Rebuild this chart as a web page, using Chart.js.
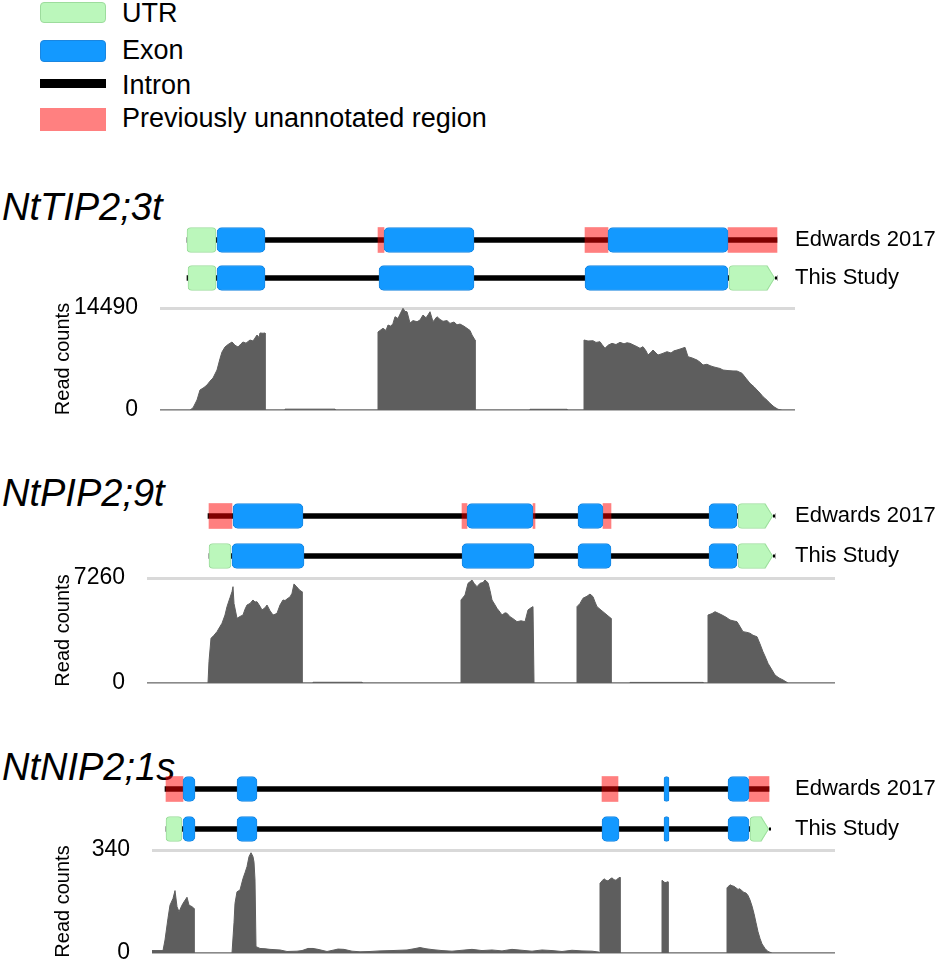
<!DOCTYPE html>
<html>
<head>
<meta charset="utf-8">
<script src="https://cdn.jsdelivr.net/npm/chart.js@4.4.1/dist/chart.umd.min.js"></script>
<style>
  body { margin: 0; background: #fff; }
  #page { position: relative; width: 939px; height: 965px; font-family: "Liberation Sans", Arial, sans-serif; color: #000; }
  canvas { position: absolute; left: 0; }
  .lg { position: absolute; left: 122px; font-size: 27px; line-height: 27px; white-space: nowrap; }
  .sw { position: absolute; left: 40px; width: 66px; box-sizing: border-box; }
  .title { position: absolute; left: 2px; font-size: 38px; line-height: 38px; font-style: italic; white-space: nowrap; }
</style>
</head>
<body>
<div id="page">
  <div class="sw" style="top:2px;height:21px;background:#bbf7bb;border:1px solid #9ddc9d;border-radius:4px;"></div>
  <div class="lg" style="top:0px;">UTR</div>
  <div class="sw" style="top:40px;height:22px;background:#1399ff;border:1px solid #1a86e0;border-radius:4px;"></div>
  <div class="lg" style="top:37px;">Exon</div>
  <div class="sw" style="top:79px;height:9px;background:#000;"></div>
  <div class="lg" style="top:72px;">Intron</div>
  <div class="sw" style="top:108px;height:23px;background:#ff8080;"></div>
  <div class="lg" style="top:105px;">Previously unannotated region</div>

  <div class="title" style="top:188px;">NtTIP2;3t</div>
  <div class="title" style="top:474px;">NtPIP2;9t</div>
  <div class="title" style="top:748px;">NtNIP2;1s</div>

  <canvas id="tipTracks"></canvas>
  <canvas id="tipCov"></canvas>
  <canvas id="pipTracks"></canvas>
  <canvas id="pipCov"></canvas>
  <canvas id="nipTracks"></canvas>
  <canvas id="nipCov"></canvas>
</div>
<script>
// gene model rows
var rows = ['Edwards 2017', 'This Study'];

// NtTIP2;3t  [row, start, end] in window coordinates
var tipIntron = [[0, 27, 617], [1, 27, 617]];
var tipUtr = [[0, 27, 56], [1, 28, 56], [1, 569, 615]];
var tipExon = [[0, 57, 105], [0, 224, 314], [0, 448, 568], [1, 57, 105], [1, 219, 314], [1, 425, 568]];
var tipNew = [[0, 218, 224], [0, 425, 448], [0, 568, 617]];
var tipTicks = [0, 14490];
var tipCoverage = [
  [0,0],[30,0],[33,300],[37,1420],[40,2840],[44,3200],[47,3550],[50,4100],[53,4540],[57,5680],[60,7300],[62,8240],[65,8950],[68,9300],[72,9660],[75,9200],[78,8950],[81,9400],[83,9660],[86,9500],[90,9940],[93,9800],[95,10220],[97,10650],[99,10300],[100,10940],[103,10900],[105,10940],[105,0],
  [125,0],[125,120],[175,120],[175,0],
  [218,0],[218,11080],[221,11400],[223,11600],[226,11300],[228,12070],[231,11900],[233,12300],[235,13250],[238,13000],[241,13900],[243,14440],[245,14000],[247,13960],[249,12900],[250,12350],[253,12700],[257,12540],[260,12780],[263,13490],[266,13100],[268,13500],[270,13960],[273,12540],[275,12900],[277,13250],[280,12870],[283,12600],[287,12700],[290,12300],[294,12500],[297,12100],[300,12210],[304,11900],[307,11600],[310,11300],[312,10650],[315,9940],[315,0],
  [370,0],[370,100],[407,100],[407,0],
  [424,0],[424,9940],[428,9800],[433,9840],[436,9600],[440,9700],[442,9300],[445,8760],[448,9200],[452,9470],[456,9300],[460,9610],[464,9400],[467,9550],[470,9470],[474,9200],[477,9000],[480,8760],[483,8990],[486,8400],[488,7810],[491,8200],[493,8520],[496,8100],[498,7810],[502,8000],[507,8280],[511,8100],[514,8400],[517,8520],[521,8700],[525,8900],[528,7570],[532,7400],[537,7100],[540,6800],[543,6390],[547,6500],[550,6300],[553,6150],[557,6000],[560,5900],[563,5680],[568,5600],[573,5550],[577,5540],[582,5210],[586,4500],[590,3790],[594,3300],[597,2840],[600,2400],[603,1890],[607,1400],[610,950],[614,450],[618,100],[622,0],[635,0]
];

// NtPIP2;9t
var pipIntron = [[0, 61, 628], [1, 62, 628]];
var pipUtr = [[0, 591, 626], [1, 62, 84], [1, 591, 626]];
var pipExon = [[0, 86, 156], [0, 320, 386], [0, 431, 456], [0, 562, 590], [1, 85, 157], [1, 315, 387], [1, 431, 464], [1, 562, 590]];
var pipNew = [[0, 62, 85], [0, 315, 320], [0, 386, 388], [0, 456, 464]];
var pipTicks = [0, 7260];
var pipCoverage = [
  [0,0],[61,0],[62,1500],[64,3090],[67,3300],[70,3550],[73,3900],[75,4130],[78,4700],[80,5280],[83,5900],[85,6310],[86,6660],[87,5500],[90,4470],[93,4600],[96,4700],[98,5100],[100,5390],[103,5500],[106,5740],[108,5600],[110,5620],[113,5300],[115,5050],[118,5200],[120,5390],[123,5000],[126,4700],[128,4750],[130,4820],[133,5390],[136,5740],[138,5700],[141,5860],[143,5950],[145,6200],[147,6850],[149,6700],[151,6550],[153,6400],[155,6310],[155,0],
  [166,0],[166,50],[215,50],[215,0],
  [314,0],[314,5740],[318,6080],[321,6890],[323,7000],[325,7120],[327,6900],[330,6660],[333,6890],[336,6950],[338,7120],[341,6930],[343,6400],[345,5740],[348,5400],[350,5160],[353,4900],[355,4700],[358,4850],[360,4820],[363,4580],[366,4450],[370,4240],[374,4300],[378,4240],[381,5050],[384,5200],[386,5280],[387,0],
  [430,0],[430,5280],[433,5500],[436,5860],[440,6000],[443,6150],[446,5970],[448,5600],[450,5280],[453,5100],[456,4930],[460,4700],[464,4470],[464,0],
  [483,0],[483,40],[556,40],[556,0],
  [561,0],[561,4700],[565,4800],[568,4930],[572,4800],[575,4700],[579,4550],[583,4360],[586,4300],[590,4240],[593,3900],[596,3550],[600,3500],[603,3440],[606,3300],[610,3200],[613,2700],[616,2160],[619,1700],[621,1360],[625,900],[628,550],[632,350],[636,210],[641,0],[688,0]
];

// NtNIP2;1s
var nipIntron = [[0, 13, 617], [1, 14, 617]];
var nipUtr = [[1, 14, 30], [1, 598, 617]];
var nipExon = [[0, 31, 43], [0, 85, 105], [0, 512, 517], [0, 576, 597], [1, 31, 43], [1, 85, 105], [1, 450, 467], [1, 512, 517], [1, 576, 597]];
var nipNew = [[0, 14, 31], [0, 450, 466], [0, 597, 617]];
var nipTicks = [0, 340];
var nipCoverage = [
  [0,8],[11,8],[13,43],[16,115],[18,158],[21,180],[23,206],[25,153],[27,136],[30,158],[32,169],[35,184],[37,158],[40,153],[42,147],[42,0],
  [80,0],[82,100],[83,164],[85,202],[88,208],[91,246],[93,265],[95,285],[97,318],[99,331],[101,318],[102,300],[103,241],[104,21],[108,15],[113,14],[118,12],[123,11],[128,10],[135,5],[145,6],[150,8],[156,15],[161,15],[166,12],[175,5],[182,10],[186,13],[192,12],[200,6],[208,4],[218,5],[228,7],[240,8],[255,10],[262,14],[268,18],[274,14],[281,11],[290,8],[300,6],[310,9],[320,12],[330,8],[340,10],[350,7],[360,12],[370,9],[380,6],[390,10],[400,8],[410,5],[420,9],[430,7],[440,6],[447,3],[447,0],
  [448,0],[448,230],[450,238],[452,245],[454,240],[456,238],[458,244],[460,248],[462,242],[464,240],[466,246],[468,250],[468,0],
  [510,0],[510,240],[513,232],[516,235],[516,0],
  [575,0],[575,215],[578,225],[580,222],[582,220],[584,215],[586,210],[588,212],[590,205],[592,200],[594,198],[596,190],[598,175],[600,155],[602,130],[604,100],[606,70],[608,48],[610,30],[613,15],[616,5],[620,0],[683,0]
];

var FONT = '"Liberation Sans", Arial, sans-serif';
var W = 939;

function feats(list) {
  return list.map(function (f) { return { y: rows[f[0]], x: [f[1], f[2]] }; });
}

function place(id, top, height) {
  var cv = document.getElementById(id);
  cv.width = W; cv.height = height;
  cv.style.top = top + 'px';
  cv.style.width = W + 'px'; cv.style.height = height + 'px';
  return cv;
}

// keep the axis from adding its own label padding to the layout
function fixAxis(width) {
  return function (s) {
    s.width = width;
    s.paddingTop = 0; s.paddingBottom = 0;
  };
}

// 3' UTR boxes get a pointed end
var arrowTips = {
  id: 'arrowTips',
  afterDatasetsDraw: function (chart) {
    var ctx = chart.ctx;
    var half = chart.scales.x.max / 2;
    var ds = chart.data.datasets[1];
    chart.getDatasetMeta(1).data.forEach(function (bar, i) {
      if (ds.data[i].x[0] < half) return;
      var p = bar.getProps(['x', 'y', 'height'], true);
      var r = p.x, top = p.y - p.height / 2, bot = p.y + p.height / 2, k = 8;
      ctx.save();
      ctx.fillStyle = '#fff';
      ctx.beginPath();
      ctx.moveTo(r - k, top - 1); ctx.lineTo(r + 2, top - 1); ctx.lineTo(r + 2, p.y - 1); ctx.lineTo(r, p.y); ctx.closePath();
      ctx.fill();
      ctx.beginPath();
      ctx.moveTo(r - k, bot + 1); ctx.lineTo(r + 2, bot + 1); ctx.lineTo(r + 2, p.y + 1); ctx.lineTo(r, p.y); ctx.closePath();
      ctx.fill();
      ctx.strokeStyle = ds.borderColor;
      ctx.lineWidth = 1;
      ctx.beginPath();
      ctx.moveTo(r - k, top + 0.5); ctx.lineTo(r - 0.5, p.y); ctx.lineTo(r - k, bot - 0.5);
      ctx.stroke();
      ctx.fillStyle = '#000';
      ctx.fillRect(r, p.y - 1.5, 2, 3);
      ctx.restore();
    });
  }
};

function drawTracks(id, top, height, areaTop, areaBottom, left, right, intron, utr, exon, added) {
  var cv = place(id, top, height);
  new Chart(cv, {
    type: 'bar',
    data: {
      labels: rows,
      datasets: [
        { data: feats(exon), backgroundColor: '#1399ff', borderColor: '#1a86e0', borderWidth: 1, borderRadius: 5, barThickness: 25, order: 0 },
        { data: feats(utr), backgroundColor: '#bbf7bb', borderColor: '#9ddc9d', borderWidth: 1, borderRadius: 4, barThickness: 25, order: 1 },
        { data: feats(added), backgroundColor: 'rgba(255,0,0,0.5)', borderWidth: 0, borderRadius: 0, barThickness: 25, order: 2 },
        { data: feats(intron), backgroundColor: '#000', borderWidth: 0, borderRadius: 0, barThickness: 5, order: 3 }
      ]
    },
    options: {
      indexAxis: 'y',
      responsive: false,
      animation: false,
      layout: { padding: { left: left, right: 0, top: areaTop - top, bottom: top + height - areaBottom } },
      plugins: { legend: { display: false }, tooltip: { enabled: false } },
      datasets: { bar: { grouped: false, borderSkipped: false } },
      scales: {
        x: { type: 'linear', min: 0, max: right - left, display: false },
        y: {
          type: 'category', position: 'right',
          grid: { display: false, drawTicks: false }, border: { display: false },
          ticks: { color: '#000', padding: 5, font: { size: 22, family: FONT } },
          afterFit: fixAxis(W - right)
        }
      }
    },
    plugins: [arrowTips]
  });
}

function drawCoverage(id, top, height, areaTop, areaBottom, left, right, ticks, points) {
  var cv = place(id, top, height);
  new Chart(cv, {
    type: 'line',
    data: {
      datasets: [{
        data: points.map(function (p) { return { x: p[0], y: p[1] }; }),
        fill: 'origin', backgroundColor: '#5e5e5e', borderColor: '#5e5e5e',
        borderWidth: 1, pointRadius: 0, tension: 0
      }]
    },
    options: {
      responsive: false,
      animation: false,
      layout: { padding: { left: 0, right: W - right, top: areaTop - top, bottom: top + height - areaBottom } },
      plugins: { legend: { display: false }, tooltip: { enabled: false } },
      scales: {
        x: { type: 'linear', min: 0, max: right - left, display: false },
        y: {
          min: ticks[0], max: ticks[1],
          afterBuildTicks: function (s) { s.ticks = ticks.map(function (v) { return { value: v }; }); },
          grid: {
            drawTicks: false,
            color: function (c) { return c.tick && c.tick.value === 0 ? '#b5b5b5' : '#d9d9d9'; },
            lineWidth: function (c) { return c.tick && c.tick.value === 0 ? 2 : 3; }
          },
          border: { display: false },
          ticks: { color: '#000', padding: 22, font: { size: 23, family: FONT }, callback: function (v) { return String(v); } },
          title: { display: true, text: 'Read counts', color: '#000', font: { size: 20, family: FONT }, padding: { top: 51, bottom: 0 } },
          afterFit: fixAxis(left)
        }
      }
    }
  });
}

drawTracks('tipTracks', 200, 110, 221, 297, 160, 790, tipIntron, tipUtr, tipExon, tipNew);
drawCoverage('tipCov', 285, 145, 308, 410, 160, 795, tipTicks, tipCoverage);

drawTracks('pipTracks', 480, 110, 496, 576, 147, 790, pipIntron, pipUtr, pipExon, pipNew);
drawCoverage('pipCov', 555, 150, 578, 683, 147, 835, pipTicks, pipCoverage);

drawTracks('nipTracks', 755, 110, 769, 849, 152, 790, nipIntron, nipUtr, nipExon, nipNew);
drawCoverage('nipCov', 827, 138, 850, 953, 152, 835, nipTicks, nipCoverage);
</script>
</body>
</html>
